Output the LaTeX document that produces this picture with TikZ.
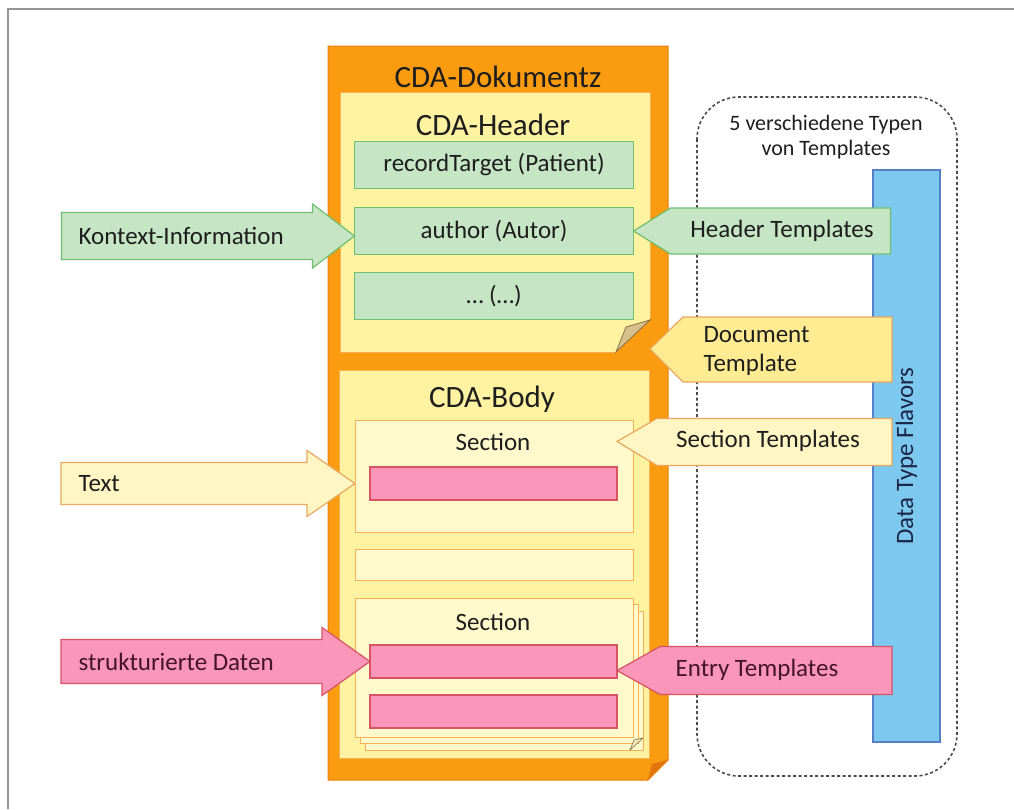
\documentclass[tikz,border=0pt]{standalone}
\usepackage{fontspec}
\setmainfont{Carlito}
\usetikzlibrary{positioning}
\definecolor{docorange}{RGB}{250,155,16}
\definecolor{docline}{RGB}{232,128,20}
\definecolor{flaporange}{RGB}{226,118,12}
\definecolor{pageyellow}{RGB}{255,242,160}
\definecolor{pageline}{RGB}{242,178,84}
\definecolor{secyellow}{RGB}{255,249,204}
\definecolor{greenfill}{RGB}{198,229,196}
\definecolor{greenline}{RGB}{112,190,112}
\definecolor{pinkfill}{RGB}{249,150,186}
\definecolor{pinkline}{RGB}{214,84,100}
\definecolor{pinktext}{RGB}{70,20,40}
\definecolor{arrowyellow}{RGB}{255,246,196}
\definecolor{docyellow}{RGB}{255,236,146}
\definecolor{arrowline}{RGB}{232,168,96}
\definecolor{flavorblue}{RGB}{124,200,238}
\definecolor{flavorline}{RGB}{84,128,200}
\definecolor{flavortext}{RGB}{28,38,72}
\definecolor{tanflap}{RGB}{214,192,140}
\definecolor{tanline}{RGB}{140,110,70}
\definecolor{txtgray}{RGB}{30,30,30}
\definecolor{framegray}{RGB}{150,150,150}

\tikzset{
  page/.style={draw=pageline,fill=pageyellow,line width=1pt,minimum width=310pt,outer sep=0pt},
  greenbox/.style={draw=greenline,fill=greenfill,line width=1.2pt,minimum width=279pt,minimum height=47pt,outer sep=0pt},
  secbox/.style={draw=pageline,fill=secyellow,line width=1pt,minimum width=278pt,outer sep=0pt},
  pinkbar/.style={draw=pinkline,fill=pinkfill,line width=1.2pt,minimum width=247pt,minimum height=33pt,outer sep=0pt},
  greenarrow/.style={draw=greenline,fill=greenfill,line width=1.2pt},
  yellowarrow/.style={draw=arrowline,fill=arrowyellow,line width=1.2pt},
  pinkarrow/.style={draw=pinkline,fill=pinkfill,line width=1.2pt},
  title/.style={font=\fontsize{31}{34}\selectfont},
}

\begin{document}
\begin{tikzpicture}[x=1pt,y=-1pt,font=\fontsize{25}{29}\selectfont,text=txtgray]
\useasboundingbox (0,0) rectangle (1014,809);
\draw[framegray,line width=1.5pt] (1014,9) -- (8,9) -- (8,809);

% ============ template types (dashed) ============
\draw[gray!60!black,line width=1.6pt,dash pattern=on 3pt off 2.5pt,rounded corners=42pt] (697,97) rectangle (957,776);
\node[font=\fontsize{22}{25}\selectfont,align=center] (typen) at (826,137) {5 verschiedene Typen\\von Templates};
\node[draw=flavorline,fill=flavorblue,line width=1.2pt,rotate=90,minimum width=572pt,minimum height=67pt,text=flavortext] (dtf) at (906.5,456) {Data Type Flavors};

% ============ CDA document ============
\draw[docline,fill=docorange,line width=1pt] (328,46) -- (668,46) -- (668,760) -- (648,780) -- (328,780) -- cycle;
\draw[docline,fill=flaporange,line width=0.8pt] (648,780) -- (652,764) -- (668,760) -- cycle;
\node[title,anchor=base] (doclab) at (498,87) {CDA-Dokumentz};

% header
\node[page,minimum height=260pt] (hdr) at (495,222) {};
\fill[docorange] (615,353) -- (651,353) -- (651,318) -- cycle;
\draw[tanline,fill=tanflap,line width=0.8pt] (616,352) -- (626,327) -- (650,320) -- cycle;
\node[title,anchor=base] (hdrlab) at (493,135) {CDA-Header};
\node[greenbox] (rt) at (494,165) {recordTarget (Patient)};
\node[greenbox] (author) at (494,231) {author (Autor)};
\node[greenbox] (etc) at (494,296) {… (…)};

% body
\node[page,minimum height=388pt] (body) at (494,564) {};
\node[title,anchor=base] (bodylab) at (492,407) {CDA-Body};
\node[secbox,minimum height=112pt] (sec1) at (494,476) {};
\node[anchor=base] (seclab1) at (493,450) {Section};
\node[pinkbar] (bar1) at (493.5,483.5) {};
\node[secbox,minimum height=31pt] (mid) at (494,565) {};
\foreach \dx/\dy in {10/13,5/6}{
  \draw[pageline,fill=secyellow,line width=1pt] (355+\dx,598+\dy) rectangle (633+\dx,737+\dy);
}
\draw[tanline,fill=secyellow!70!tanflap,line width=0.6pt] (630,750) -- (634,740) -- (643,738) -- cycle;
\node[secbox,minimum height=139pt] (sec2) at (494,667.5) {};
\node[anchor=base] (seclab2) at (493,630) {Section};
\node[pinkbar] (bar2) at (493.5,661.5) {};
\node[pinkbar] (bar3) at (493.5,711.5) {};

% ============ inputs (left) ============
\draw[greenarrow] ([yshift=-5pt]author.west) -- ++(-42,-32) -- ++(0,8.5) -- ++(-251,0) -- ++(0,47) -- ++(251,0) -- ++(0,8.5) -- cycle;
\node[anchor=west] (ctx) at (75,236) {Kontext-Information};
\draw[yellowarrow] (sec1.west |- bar1.west) -- ++(-48,-33) -- ++(0,12) -- ++(-246,0) -- ++(0,42) -- ++(246,0) -- ++(0,12) -- cycle;
\node[anchor=west] (txt) at (75,483.5) {Text};
\draw[pinkarrow] (bar2.west) -- ++(-48,-34) -- ++(0,12) -- ++(-261,0) -- ++(0,44) -- ++(261,0) -- ++(0,12) -- cycle;
\node[anchor=west,text=pinktext] (sdat) at (75,661.5) {strukturierte Daten};

% ============ templates (right) ============
\draw[greenarrow] (author.east) -- ++(37,-23) -- ++(220,0) -- ++(0,46) -- ++(-220,0) -- cycle;
\node (htpl) at (782,231) {Header Templates};
\draw[draw=arrowline,fill=docyellow,line width=1.2pt] ([yshift=3pt]hdr.south east) -- ++(33,-32) -- ++(209,0) -- ++(0,65) -- ++(-209,0) -- cycle;
\node[anchor=west,align=left] (dtpl) at (700,351) {Document\\Template};
\draw[yellowarrow] (bar1.east |- seclab1.center) -- ++(40,-23) -- ++(235,0) -- ++(0,47) -- ++(-235,0) -- cycle;
\node (stpl) at (768,441) {Section Templates};
\draw[pinkarrow] ([yshift=-9pt]bar2.east) -- ++(43,-24) -- ++(232,0) -- ++(0,48) -- ++(-232,0) -- cycle;
\node[text=pinktext] (etpl) at (757,670) {Entry Templates};

\end{tikzpicture}
\end{document}
